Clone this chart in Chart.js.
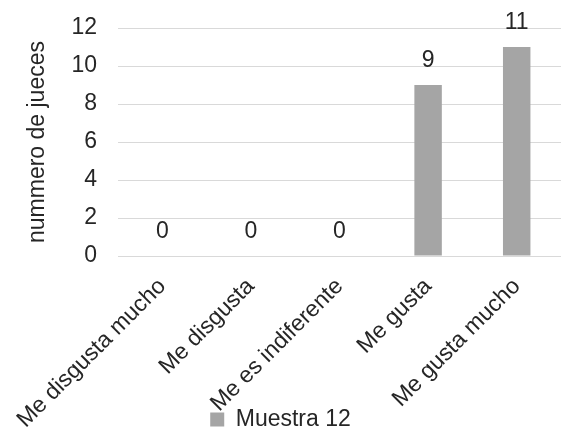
<!DOCTYPE html>
<html lang="es">
<head>
    <meta charset="UTF-8">
    <title>Muestra 12</title>
    <script src="https://cdn.jsdelivr.net/npm/chart.js"></script>
    <style>
        html, body { margin: 0; padding: 0; background: #fff; }
        #wrap { width: 561px; height: 433px; }
    </style>
</head>
<body>
    <div id="wrap"><canvas id="chart"></canvas></div>
    <script>
        const categories = ["Me disgusta mucho", "Me disgusta", "Me es indiferente", "Me gusta", "Me gusta mucho"];
        const seriesName = "Muestra 12";
        const seriesValues = [0, 0, 0, 9, 11];
        const yTicks = [0, 2, 4, 6, 8, 10, 12];

        const textColor = "#262626";
        const font = { family: "'Liberation Sans', Arial, sans-serif", size: 23 };

        // simple value labels above each bar
        const valueLabels = {
            id: "valueLabels",
            afterDatasetsDraw(chart) {
                const ctx = chart.ctx;
                ctx.save();
                ctx.font = `${font.size}px ${font.family}`;
                ctx.fillStyle = textColor;
                ctx.textAlign = "center";
                ctx.textBaseline = "middle";
                chart.getDatasetMeta(0).data.forEach((bar, i) => {
                    ctx.fillText(String(seriesValues[i]), bar.x, bar.y - 24);
                });
                ctx.restore();
            }
        };

        // let the rotated category labels run down past the legend (like excel does)
        const overlapLabels = {
            id: "overlapLabels",
            afterLayout(chart) {
                const x = chart.scales.x;
                x.bottom = chart.height;
                x.height = x.bottom - x.top;
                chart.legend.top += 8;
                chart.legend.bottom += 8;
            }
        };

        new Chart(document.getElementById("chart"), {
            type: "bar",
            data: {
                labels: categories,
                datasets: [{
                    label: seriesName,
                    data: seriesValues,
                    backgroundColor: "#a5a5a5",
                    borderWidth: 0,
                    categoryPercentage: 1,
                    barPercentage: 0.31
                }]
            },
            options: {
                responsive: true,
                maintainAspectRatio: false,
                animation: false,
                layout: { padding: { top: 28, right: 0, left: 0, bottom: 0 } },
                plugins: {
                    tooltip: { enabled: false },
                    legend: {
                        position: "bottom",
                        labels: {
                            color: textColor,
                            font: font,
                            boxWidth: 14,
                            boxHeight: 14,
                            padding: 5
                        }
                    }
                },
                scales: {
                    x: {
                        grid: { display: false, drawTicks: false },
                        border: { color: "#d9d9d9" },
                        ticks: {
                            color: textColor,
                            font: font,
                            maxRotation: 45,
                            minRotation: 45,
                            padding: 17
                        },
                        afterFit(scale) {
                            scale.height = 139;
                            scale.paddingLeft = 0;
                            scale.paddingRight = 0;
                        }
                    },
                    y: {
                        min: 0,
                        max: 12,
                        afterBuildTicks(scale) { scale.ticks = yTicks.map(v => ({ value: v })); },
                        grid: { color: "#d9d9d9", drawTicks: false },
                        border: { display: false },
                        ticks: { color: textColor, font: font, padding: 21 },
                        title: {
                            display: true,
                            text: "nummero de jueces",
                            color: textColor,
                            font: font,
                            padding: { top: 24, bottom: 0 }
                        },
                        afterFit(scale) {
                            scale.width = 118;
                            scale.paddingTop = 0;
                            scale.paddingBottom = 0;
                        }
                    }
                }
            },
            plugins: [valueLabels, overlapLabels]
        });
    </script>
</body>
</html>
